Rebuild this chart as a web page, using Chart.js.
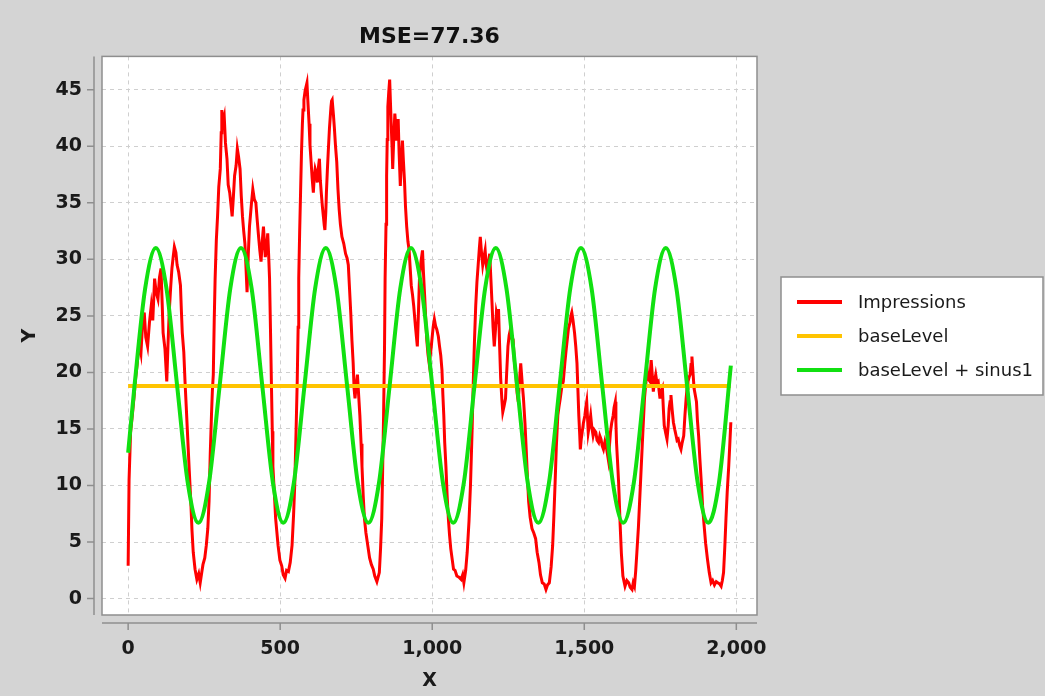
<!DOCTYPE html>
<html>
<head>
<meta charset="utf-8">
<script src="https://cdn.jsdelivr.net/npm/chart.js@4"></script>
<style>
  html, body { margin: 0; padding: 0; background: #d4d4d4; }
  #graphe { display: block; }
</style>
</head>
<body>
<canvas id="graphe" width="1045" height="696"></canvas>
<script>
// Données : [x, valeur]
const impressions = [
  [0, 2.9], [3, 10.5], [8, 14.7], [14, 16.3], [19, 17.7], [25, 19.6], [30, 20.8], [36, 22.6], [42, 21.7], [47, 24.1],
  [53, 25.3], [58, 23.1], [64, 22.3], [70, 24.4], [76, 25.9], [81, 24.6], [87, 28.3], [92, 27.1], [98, 26.5], [103, 28.4],
  [108, 29.2], [112, 26.0], [115, 23.5], [121, 22.1], [127, 19.2], [131, 22.4], [135, 25.3], [140, 27.6], [144, 29.2], [148, 30.2],
  [152, 31.1], [157, 30.6], [161, 29.5], [166, 28.9], [172, 27.7], [175, 25.5], [178, 23.5], [183, 21.8], [187, 19.2], [191, 17.0],
  [195, 14.7], [201, 11.3], [206, 8.6], [210, 6.0], [214, 4.1], [220, 2.6], [226, 1.7], [232, 2.2], [237, 1.4], [242, 2.3],
  [246, 3.0], [252, 3.6], [257, 4.7], [262, 6.2], [266, 8.6], [270, 12.8], [274, 16.2], [277, 18.4], [280, 19.8], [283, 24.5],
  [286, 28.3], [290, 31.7], [294, 33.8], [298, 36.4], [303, 38.0], [306, 41.2], [308, 43.2], [312, 42.1], [316, 42.6], [320, 40.3],
  [325, 38.9], [329, 36.6], [334, 35.9], [338, 34.9], [342, 33.8], [346, 35.5], [350, 37.4], [355, 38.3], [359, 39.8], [363, 39.1],
  [368, 38.0], [372, 35.6], [376, 33.8], [380, 32.5], [384, 31.4], [388, 29.0], [391, 27.1], [395, 30.4], [399, 32.9], [405, 34.8],
  [410, 36.2], [415, 35.3], [420, 35.0], [424, 33.6], [429, 32.0], [433, 30.8], [437, 29.8], [441, 31.6], [445, 32.9], [448, 31.5],
  [451, 30.2], [455, 31.0], [459, 32.3], [462, 30.4], [465, 28.3], [468, 23.9], [471, 19.2], [474, 14.8], [476, 11.7], [481, 9.2],
  [485, 7.1], [489, 5.9], [493, 4.7], [499, 3.4], [505, 2.9], [510, 2.1], [516, 1.8], [521, 2.5], [527, 2.4], [533, 3.2],
  [539, 4.7], [544, 7.4], [548, 10.2], [552, 14.6], [556, 19.2], [559, 24.0], [561, 28.3], [564, 32.4], [567, 35.9], [570, 39.4],
  [573, 42.0], [575, 43.2], [578, 44.1], [582, 44.9], [588, 45.6], [591, 44.0], [595, 42.0], [598, 40.1], [601, 38.9], [605, 37.2],
  [609, 35.9], [612, 37.3], [615, 38.0], [619, 37.6], [622, 36.8], [626, 38.2], [629, 38.9], [632, 37.0], [635, 35.9], [639, 34.6],
  [642, 33.8], [645, 33.0], [647, 32.6], [650, 34.2], [652, 35.9], [655, 37.8], [658, 39.5], [662, 41.6], [667, 43.5], [669, 44.0],
  [671, 44.1], [675, 42.8], [678, 41.7], [682, 40.0], [686, 38.6], [690, 36.2], [694, 34.4], [698, 33.1], [703, 32.0], [709, 31.4],
  [715, 30.5], [720, 30.1], [724, 29.5], [728, 27.4], [732, 25.3], [736, 22.8], [740, 20.8], [743, 18.6], [746, 17.7], [750, 18.9],
  [754, 19.8], [758, 18.0], [762, 16.2], [766, 13.7], [769, 11.7], [773, 9.1], [777, 7.1], [782, 5.8], [788, 4.7], [794, 3.6],
  [800, 3.0], [806, 2.6], [811, 2.0], [818, 1.5], [826, 2.3], [830, 4.4], [834, 7.1], [837, 11.5], [840, 16.2], [843, 22.0],
  [845, 28.3], [848, 33.1], [850, 37.4], [852, 40.6], [854, 43.5], [857, 44.8], [860, 45.9], [862, 44.3], [865, 42.0], [868, 39.8],
  [870, 38.0], [873, 40.4], [877, 42.9], [880, 41.8], [882, 40.5], [885, 41.2], [888, 42.4], [891, 39.5], [895, 36.5], [898, 38.6],
  [902, 40.5], [905, 38.8], [909, 36.8], [912, 34.7], [916, 32.9], [920, 31.6], [924, 30.8], [928, 29.0], [931, 27.7], [935, 26.9],
  [939, 25.9], [945, 24.0], [951, 22.3], [955, 25.6], [958, 28.3], [963, 29.8], [968, 30.8], [971, 28.9], [975, 26.8], [979, 24.5],
  [982, 22.9], [986, 21.6], [990, 20.8], [995, 21.8], [999, 22.9], [1003, 24.0], [1007, 24.7], [1011, 24.1], [1015, 23.8], [1020, 23.2],
  [1024, 22.3], [1028, 21.5], [1032, 20.2], [1035, 18.0], [1038, 16.2], [1041, 13.8], [1045, 11.7], [1049, 9.1], [1053, 7.1], [1057, 5.6],
  [1061, 4.4], [1066, 3.4], [1070, 2.6], [1075, 2.5], [1081, 2.0], [1088, 1.9], [1095, 1.7], [1100, 2.1], [1104, 1.4], [1110, 2.5],
  [1115, 4.1], [1121, 6.9], [1126, 10.2], [1131, 14.8], [1135, 19.2], [1139, 22.9], [1143, 25.9], [1147, 28.0], [1151, 29.5], [1155, 31.0],
  [1158, 32.0], [1162, 30.6], [1166, 29.5], [1170, 30.2], [1174, 30.8], [1177, 29.6], [1181, 28.9], [1185, 29.8], [1189, 30.5], [1193, 28.2],
  [1197, 25.9], [1200, 24.0], [1204, 22.3], [1208, 23.8], [1211, 25.3], [1215, 24.8], [1218, 25.6], [1222, 22.0], [1225, 19.5], [1229, 17.6],
  [1232, 16.5], [1236, 17.0], [1241, 17.7], [1245, 20.1], [1249, 22.3], [1253, 23.3], [1257, 23.8], [1261, 23.0], [1266, 22.9], [1270, 21.0],
  [1275, 19.8], [1279, 18.2], [1283, 17.4], [1287, 19.3], [1291, 20.8], [1296, 19.0], [1300, 17.7], [1305, 15.5], [1309, 13.2], [1313, 10.8],
  [1317, 8.6], [1322, 7.2], [1328, 6.2], [1334, 5.8], [1340, 5.3], [1345, 4.1], [1351, 3.2], [1356, 2.1], [1362, 1.4], [1368, 1.3],
  [1374, 0.8], [1379, 1.2], [1385, 1.4], [1391, 2.8], [1396, 4.7], [1400, 7.3], [1404, 10.2], [1408, 13.4], [1413, 16.2], [1417, 17.0],
  [1421, 17.7], [1426, 18.7], [1431, 19.2], [1436, 20.8], [1440, 21.9], [1444, 22.9], [1448, 23.9], [1453, 24.4], [1456, 25.0], [1459, 25.3],
  [1463, 24.6], [1468, 23.5], [1472, 22.3], [1476, 20.8], [1479, 18.5], [1482, 16.2], [1485, 14.5], [1487, 13.2], [1490, 14.1], [1493, 14.7],
  [1497, 15.5], [1502, 16.2], [1505, 16.9], [1508, 17.4], [1511, 15.8], [1513, 14.7], [1517, 15.4], [1521, 16.2], [1525, 15.1], [1529, 14.4],
  [1533, 14.9], [1538, 14.7], [1542, 14.0], [1547, 13.8], [1551, 14.4], [1555, 14.1], [1559, 13.5], [1563, 13.2], [1568, 13.9], [1572, 13.5],
  [1576, 12.8], [1579, 12.3], [1583, 13.6], [1586, 14.7], [1590, 15.5], [1595, 16.2], [1598, 16.9], [1602, 17.4], [1604, 15.6], [1606, 13.8],
  [1610, 11.8], [1613, 10.2], [1618, 6.5], [1622, 4.0], [1627, 2.0], [1634, 1.1], [1640, 1.6], [1646, 1.4], [1651, 1.0], [1657, 0.8],
  [1661, 1.4], [1665, 1.1], [1669, 2.4], [1673, 4.1], [1678, 6.3], [1682, 8.6], [1686, 10.9], [1690, 13.2], [1694, 15.5], [1698, 17.7],
  [1703, 19.2], [1707, 20.2], [1711, 19.4], [1716, 19.2], [1718, 20.3], [1720, 21.1], [1724, 19.6], [1727, 18.3], [1731, 19.2], [1735, 19.8],
  [1739, 19.1], [1743, 19.2], [1746, 18.4], [1749, 17.7], [1753, 18.3], [1757, 18.6], [1760, 16.8], [1763, 15.3], [1768, 14.6], [1772, 14.1],
  [1776, 15.3], [1779, 16.8], [1782, 17.4], [1785, 18.0], [1789, 16.7], [1793, 15.6], [1798, 14.9], [1802, 14.4], [1805, 14.0], [1809, 14.1],
  [1814, 13.5], [1818, 13.2], [1822, 13.8], [1827, 14.4], [1831, 16.2], [1835, 17.7], [1838, 18.6], [1841, 19.2], [1845, 19.6], [1848, 19.8],
  [1851, 20.7], [1854, 21.4], [1858, 19.8], [1861, 18.6], [1865, 18.0], [1869, 17.4], [1872, 15.8], [1876, 14.4], [1880, 12.4], [1885, 10.2],
  [1889, 8.2], [1894, 6.5], [1899, 4.9], [1905, 3.5], [1911, 2.3], [1917, 1.4], [1922, 1.6], [1928, 1.2], [1934, 1.5], [1939, 1.4],
  [1945, 1.3], [1950, 1.1], [1954, 1.6], [1958, 2.3], [1962, 4.5], [1966, 7.1], [1970, 9.4], [1975, 11.7], [1979, 13.9], [1982, 15.6]
];

const baseLevel = [[0, 18.8], [1982, 18.8]];

const baseSinus = [
  [0, 12.9], [21, 18.85], [56, 27.44], [91, 31.0], [126, 27.44], [161, 18.85], [196, 10.26], [231, 6.7],
  [266, 10.26], [301, 18.85], [336, 27.44], [371, 31.0], [406, 27.44], [441, 18.85], [476, 10.26], [510, 6.7],
  [545, 10.26], [580, 18.85], [615, 27.44], [650, 31.0], [685, 27.44], [720, 18.85], [755, 10.26], [790, 6.7],
  [825, 10.26], [860, 18.85], [895, 27.44], [930, 31.0], [965, 27.44], [1000, 18.85], [1035, 10.26], [1069, 6.7],
  [1104, 10.26], [1139, 18.85], [1174, 27.44], [1209, 31.0], [1244, 27.44], [1279, 18.85], [1314, 10.26], [1349, 6.7],
  [1384, 10.26], [1419, 18.85], [1454, 27.44], [1489, 31.0], [1524, 27.44], [1559, 18.85], [1594, 10.26], [1628, 6.7],
  [1663, 10.26], [1698, 18.85], [1733, 27.44], [1768, 31.0], [1803, 27.44], [1838, 18.85], [1873, 10.26], [1908, 6.7],
  [1943, 10.26], [1982, 20.6]
];

const libelles = ['Impressions', 'baseLevel', 'baseLevel + sinus1'];
const couleurs = ['#ff0000', '#ffc400', '#11e011'];
const ticksX = [0, 500, 1000, 1500, 2000];
const ticksY = [0, 5, 10, 15, 20, 25, 30, 35, 40, 45];

const enPoints = arr => arr.map(p => ({ x: p[0], y: p[1] }));

// fond gris + zone de tracé blanche
const fondGris = {
  id: 'fondGris',
  beforeDraw(chart) {
    const { ctx, chartArea: a } = chart;
    ctx.save();
    ctx.fillStyle = '#d4d4d4';
    ctx.fillRect(0, 0, chart.width, chart.height);
    ctx.fillStyle = '#ffffff';
    ctx.fillRect(a.left, a.top, a.right - a.left, a.bottom - a.top);
    ctx.restore();
  }
};

// cadre, axes décalés et graduations
const axesDecales = {
  id: 'axesDecales',
  afterDraw(chart) {
    const { ctx, chartArea: a, scales } = chart;
    ctx.save();
    ctx.strokeStyle = '#8e8e8e';
    ctx.lineWidth = 1.5;
    ctx.strokeRect(a.left, a.top, a.right - a.left, a.bottom - a.top);
    const ax = a.left - 8, ay = a.bottom + 8;
    ctx.beginPath();
    ctx.moveTo(ax, a.top); ctx.lineTo(ax, a.bottom);
    ctx.moveTo(a.left, ay); ctx.lineTo(a.right, ay);
    scales.y.ticks.forEach(t => {
      const p = scales.y.getPixelForValue(t.value);
      ctx.moveTo(ax - 7, p); ctx.lineTo(ax, p);
    });
    scales.x.ticks.forEach(t => {
      const p = scales.x.getPixelForValue(t.value);
      ctx.moveTo(p, ay); ctx.lineTo(p, ay + 7);
    });
    ctx.stroke();
    ctx.restore();
  }
};

// légende encadrée à droite
const legendeEncadree = {
  id: 'legendeEncadree',
  afterDraw(chart) {
    const ctx = chart.ctx;
    ctx.save();
    ctx.fillStyle = '#ffffff';
    ctx.fillRect(781, 277, 262, 118);
    ctx.strokeStyle = '#8e8e8e';
    ctx.lineWidth = 1.5;
    ctx.strokeRect(781, 277, 262, 118);
    ctx.font = '18px "DejaVu Sans"';
    ctx.textBaseline = 'middle';
    chart.data.datasets.forEach((ds, i) => {
      const y = 302 + i * 34;
      ctx.strokeStyle = ds.borderColor;
      ctx.lineWidth = 4;
      ctx.beginPath();
      ctx.moveTo(797, y);
      ctx.lineTo(842, y);
      ctx.stroke();
      ctx.fillStyle = '#1a1a1a';
      ctx.fillText(ds.label, 858, y + 1);
    });
    ctx.restore();
  }
};

Chart.defaults.font.family = '"DejaVu Sans", sans-serif';
Chart.defaults.color = '#1a1a1a';

new Chart(document.getElementById('graphe'), {
  type: 'line',
  data: {
    datasets: [
      { label: libelles[0], data: enPoints(impressions), borderColor: couleurs[0], borderWidth: 3, order: 3, tension: 0 },
      { label: libelles[1], data: enPoints(baseLevel), borderColor: couleurs[1], borderWidth: 4, order: 2, tension: 0 },
      { label: libelles[2], data: enPoints(baseSinus), borderColor: couleurs[2], borderWidth: 4, order: 1, cubicInterpolationMode: 'monotone' }
    ]
  },
  options: {
    responsive: false,
    animation: false,
    locale: 'en-US',
    elements: { point: { radius: 0 } },
    layout: { padding: { left: 0, right: 288, top: 0, bottom: 0 } },
    plugins: {
      legend: { display: false },
      tooltip: { enabled: false },
      title: {
        display: true,
        text: 'MSE=77.36',
        fullSize: false,
        font: { size: 22, weight: 'bold' },
        color: '#111',
        padding: { top: 24, bottom: 6 }
      }
    },
    scales: {
      x: {
        type: 'linear',
        min: -86,
        max: 2068,
        afterFit: s => { s.height = 81; },
        afterBuildTicks: s => { s.ticks = ticksX.map(v => ({ value: v })); },
        grid: { color: '#cfcfcf', drawTicks: false },
        border: { display: false, dash: [4, 4] },
        ticks: { padding: 23, font: { size: 19, weight: 'bold' }, maxRotation: 0, autoSkip: false },
        title: { display: true, text: 'X', font: { size: 19, weight: 'bold' }, padding: { top: 4, bottom: 4 } }
      },
      y: {
        min: -1.45,
        max: 47.95,
        afterFit: s => { s.width = 102; },
        afterBuildTicks: s => { s.ticks = ticksY.map(v => ({ value: v })); },
        grid: { color: '#cfcfcf', drawTicks: false },
        border: { display: false, dash: [4, 4] },
        ticks: { padding: 20, font: { size: 19, weight: 'bold' }, autoSkip: false },
        title: { display: true, text: 'Y', font: { size: 19, weight: 'bold' }, padding: { top: 19, bottom: 0 } }
      }
    }
  },
  plugins: [fondGris, axesDecales, legendeEncadree]
});
</script>
</body>
</html>
